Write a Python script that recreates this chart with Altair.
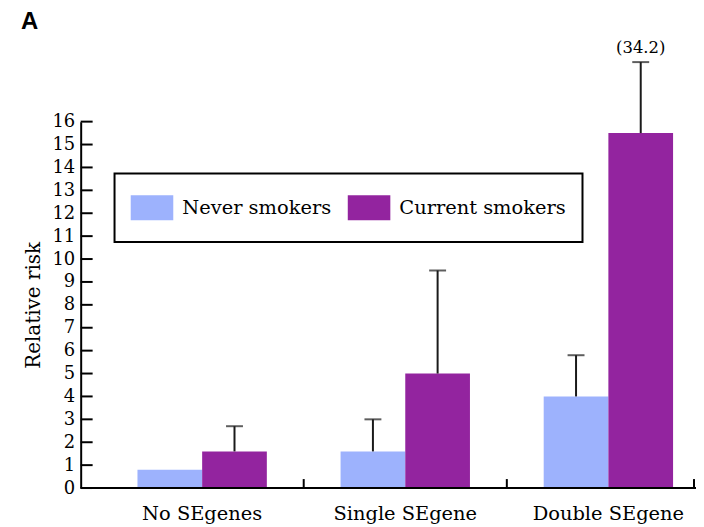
import altair as alt
import pandas as pd

# ---- data ----
groups = ["No SEgenes", "Single SEgene", "Double SEgene"]
series = ["Never smokers", "Current smokers"]
colors = ["#9db2fd", "#93249f"]
never_rr = [0.8, 1.6, 4.0]
never_upper = [None, 3.0, 5.8]
current_rr = [1.6, 5.0, 15.5]
current_upper = [2.7, 9.5, 34.2]
y_ticks = list(range(0, 17))
axis_top = 16
cap_limit = 18.6  # off-scale whiskers are truncated here and labelled

rows = []
for s, vals, ups in [(series[0], never_rr, never_upper), (series[1], current_rr, current_upper)]:
    for g, v, u in zip(groups, vals, ups):
        rows.append({"group": g, "series": s, "rr": v, "upper": u})
df = pd.DataFrame(rows)

err_rows = [r for r in rows if r["upper"] is not None]
err = pd.DataFrame(err_rows)
err["upper_drawn"] = err["upper"].clip(upper=cap_limit)
err["label"] = [f"({u})" if u > axis_top else "" for u in err["upper"]]

bound_df = pd.DataFrame({"group": groups[1:]})
tick_df = pd.DataFrame({"rr": y_ticks})
one_df = pd.DataFrame({"k": [0]})

W, H = 618, 368
SERIF = "DejaVu Serif"
INK = "#1a1a1a"

yscale = alt.Scale(domain=[0, axis_top], nice=False, zero=True)
xscale = alt.Scale(domain=groups, range=[20, 632], paddingInner=0, paddingOuter=0)
xoscale = alt.Scale(domain=series, paddingInner=0, paddingOuter=0.57)

x_axis = alt.Axis(title=None, domain=False, ticks=False, labelAngle=0,
                  labelFont=SERIF, labelFontSize=19.5, labelColor="black",
                  labelPadding=17)
y_axis = alt.Axis(values=y_ticks, tickCount=len(y_ticks), ticks=False, grid=False,
                  domainColor="black", domainWidth=2, labelPadding=6, labelFont=SERIF,
                  labelFontSize=18, labelColor="black", labelOverlap=False,
                  labelFlush=False, labelSeparation=0,
                  title="Relative risk", titleFont=SERIF, titleFontSize=20,
                  titleFontWeight="normal", titleColor="black", titlePadding=8)

x_enc = alt.X("group:N", scale=xscale, axis=x_axis)
xo_enc = alt.XOffset("series:N", scale=xoscale)


def y_enc(field):
    return alt.Y(field, scale=yscale, axis=y_axis)


bars = alt.Chart(df).mark_bar(strokeWidth=0).encode(
    x=x_enc,
    xOffset=xo_enc,
    y=y_enc("rr:Q"),
    color=alt.Color("series:N", scale=alt.Scale(domain=series, range=colors),
                    legend=alt.Legend(title=None, orient="none", legendX=34, legendY=52,
                                      direction="horizontal", strokeColor="black",
                                      padding=16, labelFont=SERIF, labelFontSize=19.5,
                                      labelColor="black", labelOffset=9, columnPadding=16,
                                      labelLimit=400,
                                      symbolType="M-1,-0.58H1V0.58H-1Z", symbolSize=1849,
                                      symbolStrokeWidth=0, symbolOpacity=1, clipHeight=37)),
)

whisker = alt.Chart(err).mark_rule(color=INK, strokeWidth=2).encode(
    x=x_enc, xOffset=xo_enc,
    y=y_enc("rr:Q"),
    y2="upper_drawn:Q",
)

caps = alt.Chart(err).mark_tick(color=INK, thickness=2, size=17, orient="horizontal").encode(
    x=x_enc, xOffset=xo_enc,
    y=y_enc("upper_drawn:Q"),
)

labels = alt.Chart(err).transform_filter("datum.label != ''").mark_text(
    font=SERIF, fontSize=16.5, color="black", baseline="alphabetic", dy=-9
).encode(
    x=x_enc, xOffset=xo_enc,
    y=y_enc("upper_drawn:Q"),
    text="label:N",
)

yticks = alt.Chart(tick_df).mark_rule(color="black", strokeWidth=2).encode(
    y=y_enc("rr:Q"),
    x=alt.value(0), x2=alt.value(12),
)

xline = alt.Chart(one_df).mark_rule(color="black", strokeWidth=2).encode(
    x=alt.value(0), x2=alt.value(W), y=alt.value(H),
)

xbounds = alt.Chart(bound_df).mark_rule(color="black", strokeWidth=2).encode(
    x=alt.X("group:N", scale=xscale, axis=x_axis, bandPosition=0),
    y=alt.value(H - 9), y2=alt.value(H),
)
xend = alt.Chart(one_df).mark_rule(color="black", strokeWidth=2).encode(
    x=alt.value(W - 2), y=alt.value(H - 9), y2=alt.value(H),
)

panel = alt.Chart(one_df).mark_text(
    font="Liberation Sans", fontSize=24, fontWeight="bold", color="black",
    align="left", baseline="alphabetic"
).encode(x=alt.value(-60), y=alt.value(-93), text=alt.value("A"))

chart = alt.layer(bars, whisker, caps, labels, yticks, xline, xbounds, xend, panel).properties(
    width=W, height=H,
    autosize=alt.AutoSizeParams(type="none"),
    padding={"left": 73, "top": 113, "right": 0, "bottom": 38},
).configure_view(stroke=None).configure_legend(strokeWidth=2)

chart.save("out.html", embed_options={"renderer": "svg", "actions": False})
